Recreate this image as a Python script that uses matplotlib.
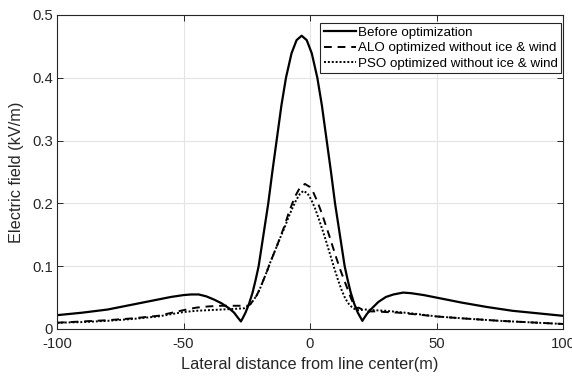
import matplotlib
matplotlib.use("Agg")
import matplotlib.pyplot as plt

plt.rcParams['font.family'] = ['Liberation Sans', 'DejaVu Sans']
plt.rcParams['axes.unicode_minus'] = False

# Before optimization (solid)
x_before = [-100, -90, -80, -70, -60, -55, -50, -47, -44, -41, -38, -35, -32, -30, -28.5,
            -27.3, -26.5, -25.5, -24.1, -22.7, -21.5, -20.3, -18.4, -16.5, -14.9, -13.2,
            -11.3, -9.5, -7.3, -5.3, -3.3, -1.3, 0.7, 2.9, 4.7, 6.6, 8.3, 9.9, 11.8,
            13.7, 14.9, 16.1, 17.5, 18.9, 20.7, 21.5, 22.5, 24, 25.5, 27, 28.5, 30, 33,
            36.8, 40, 45, 50, 55, 60, 70, 80, 90, 100]
y_before = [0.022, 0.026, 0.031, 0.039, 0.047, 0.051, 0.054, 0.055, 0.055, 0.052, 0.047,
            0.041, 0.033, 0.026, 0.018, 0.012, 0.018, 0.026, 0.040, 0.058, 0.078, 0.100,
            0.150, 0.200, 0.250, 0.300, 0.356, 0.400, 0.439, 0.460, 0.467, 0.460, 0.439,
            0.400, 0.356, 0.300, 0.250, 0.200, 0.150, 0.100, 0.078, 0.058, 0.040, 0.026,
            0.013, 0.018, 0.024, 0.031, 0.037, 0.043, 0.047, 0.051, 0.055, 0.058, 0.057,
            0.054, 0.050, 0.046, 0.042, 0.035, 0.029, 0.025, 0.021]

# ALO optimized without ice & wind (dashed)
x_alo = [-100, -90, -80, -70, -60, -50, -45, -40, -35, -30, -26, -24.5, -23.5, -22.5,
         -21, -19.7, -18.4, -17, -15.8, -14.5, -13.2, -11.6, -10, -8.5, -7, -5.5, -4,
         -2, 0, 1.5, 3, 4.5, 6, 7.5, 9, 10.5, 12, 13.5, 15, 16.3, 17.4, 18.3, 19.2,
         20.2, 21.5, 23, 26, 30, 35, 40, 50, 60, 75, 90, 100]
y_alo = [0.010, 0.012, 0.014, 0.017, 0.021, 0.030, 0.034, 0.036, 0.037, 0.037, 0.037,
         0.037, 0.040, 0.045, 0.054, 0.065, 0.078, 0.092, 0.105, 0.118, 0.131, 0.148,
         0.165, 0.184, 0.200, 0.214, 0.225, 0.231, 0.226, 0.216, 0.202, 0.186, 0.168,
         0.150, 0.131, 0.112, 0.094, 0.078, 0.062, 0.048, 0.038, 0.033, 0.034, 0.032,
         0.029, 0.028, 0.028, 0.027, 0.026, 0.024, 0.020, 0.017, 0.013, 0.010, 0.008]

# PSO optimized without ice & wind (dotted)
x_pso = [-100, -90, -80, -70, -60, -50, -45, -40, -35, -30, -26, -24.5, -23.5, -22.5,
         -21, -19.7, -18.4, -17, -15.8, -14.5, -13.2, -11.6, -10, -8.5, -7, -5.5, -4,
         -2.6, -1, 0.5, 2, 3.5, 5, 6.5, 8, 9.5, 11, 12.5, 14, 15.5, 17, 19, 22, 25, 30,
         40, 50, 60, 75, 90, 100]
y_pso = [0.010, 0.011, 0.013, 0.016, 0.020, 0.027, 0.029, 0.030, 0.031, 0.032, 0.033,
         0.036, 0.040, 0.045, 0.054, 0.065, 0.078, 0.092, 0.105, 0.118, 0.131, 0.147,
         0.162, 0.178, 0.192, 0.205, 0.215, 0.220, 0.216, 0.206, 0.192, 0.175, 0.157,
         0.138, 0.118, 0.098, 0.079, 0.062, 0.048, 0.039, 0.033, 0.030, 0.031, 0.030,
         0.029, 0.025, 0.020, 0.017, 0.013, 0.010, 0.008]

x_ticks = [-100, -50, 0, 50, 100]
x_tick_labels = ['-100', '-50', '0', '50', '100']
y_ticks = [0, 0.1, 0.2, 0.3, 0.4, 0.5]
y_tick_labels = ['0', '0.1', '0.2', '0.3', '0.4', '0.5']

txt = '#262626'

fig = plt.figure(figsize=(5.72, 3.79), dpi=100)
ax = fig.add_axes([57 / 572, 1 - 329 / 379, 506 / 572, 314 / 379])

ax.plot(x_before, y_before, color='black', lw=1.6, ls='-', label='Before optimization')
ax.plot(x_alo, y_alo, color='black', lw=1.4, ls=(0, (4, 3)), label='ALO optimized without ice & wind')
ax.plot(x_pso, y_pso, color='black', lw=1.4, ls=(0, (1, 1)), label='PSO optimized without ice & wind')

ax.set_xlim(-100, 100)
ax.set_ylim(0, 0.5)
ax.set_xticks(x_ticks)
ax.set_xticklabels(x_tick_labels)
ax.set_yticks(y_ticks)
ax.set_yticklabels(y_tick_labels)
ax.grid(True, color='#e4e4e4', lw=0.8)
ax.set_axisbelow(True)
ax.tick_params(direction='in', top=True, right=True, length=4, width=0.7,
               colors=txt, labelsize=10.7, labelcolor=txt)
ax.tick_params(axis='x', pad=6)
ax.tick_params(axis='y', pad=3)
for s in ax.spines.values():
    s.set_color(txt)
    s.set_linewidth(0.8)

ax.set_xlabel('Lateral distance from line center(m)', fontsize=11.7, color=txt, labelpad=4)
ax.set_ylabel('Electric field (kV/m)', fontsize=11.7, color=txt, labelpad=6)

leg = ax.legend(loc='upper right', bbox_to_anchor=(0.996, 0.9745), borderaxespad=0,
                fontsize=9.6, handlelength=2.4, handletextpad=0.15, labelspacing=0.25,
                borderpad=0.25, fancybox=False, framealpha=1)
leg.get_frame().set_edgecolor(txt)
leg.get_frame().set_linewidth(0.8)
for t in leg.get_texts():
    t.set_color('black')

fig.savefig('out.png', dpi=100)
